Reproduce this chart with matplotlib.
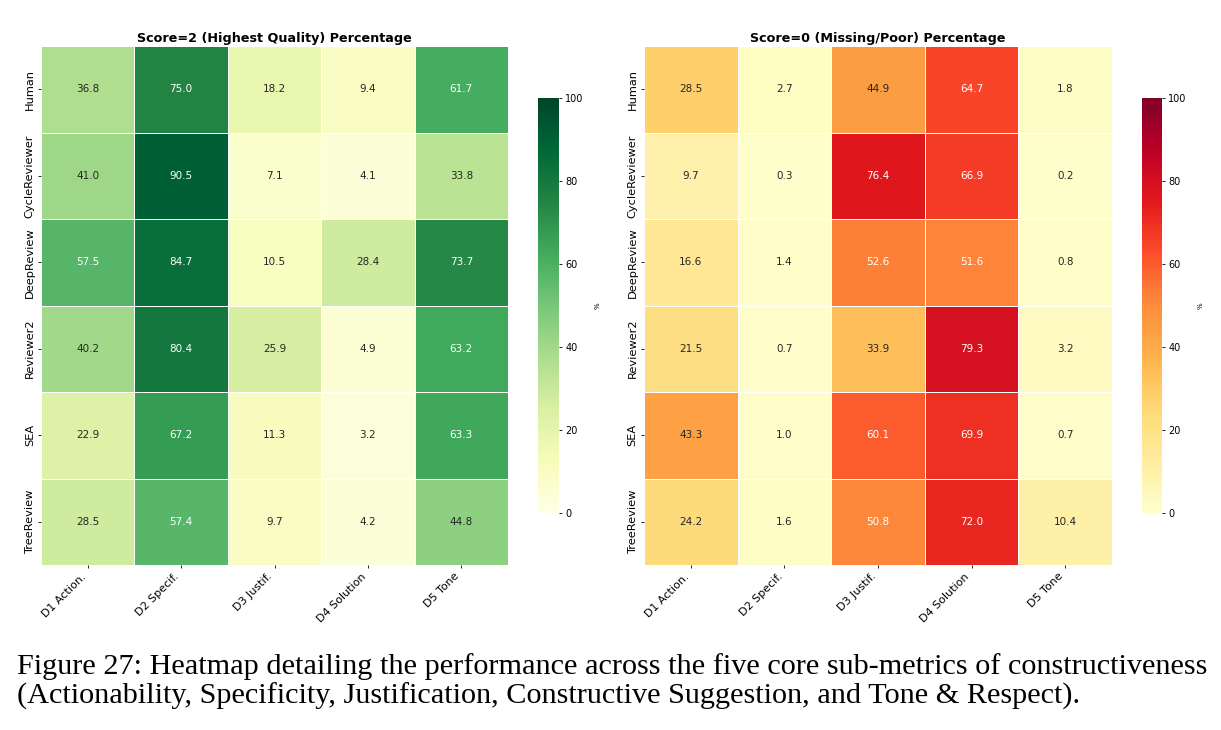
import matplotlib
matplotlib.use("Agg")
import matplotlib.pyplot as plt
import seaborn as sns
import numpy as np

models = ["Human", "CycleReviewer", "DeepReview", "Reviewer2", "SEA", "TreeReview"]
dims = ["D1 Action.", "D2 Specif.", "D3 Justif.", "D4 Solution", "D5 Tone"]

score2 = [
    [36.8, 75.0, 18.2, 9.4, 61.7],
    [41.0, 90.5, 7.1, 4.1, 33.8],
    [57.5, 84.7, 10.5, 28.4, 73.7],
    [40.2, 80.4, 25.9, 4.9, 63.2],
    [22.9, 67.2, 11.3, 3.2, 63.3],
    [28.5, 57.4, 9.7, 4.2, 44.8],
]
score0 = [
    [28.5, 2.7, 44.9, 64.7, 1.8],
    [9.7, 0.3, 76.4, 66.9, 0.2],
    [16.6, 1.4, 52.6, 51.6, 0.8],
    [21.5, 0.7, 33.9, 79.3, 3.2],
    [43.3, 1.0, 60.1, 69.9, 0.7],
    [24.2, 1.6, 50.8, 72.0, 10.4],
]
titles = ["Score=2 (Highest Quality) Percentage", "Score=0 (Missing/Poor) Percentage"]
caption_lines = [
    "Figure 27: Heatmap detailing the performance across the five core sub-metrics of constructiveness",
    "(Actionability, Specificity, Justification, Constructive Suggestion, and Tone & Respect).",
]

fig = plt.figure(figsize=(12.21, 7.30), dpi=100)
W, H = 1221, 730

def box(x0, x1, y0, y1):
    return [x0 / W, 1 - y1 / H, (x1 - x0) / W, (y1 - y0) / H]

ax1 = fig.add_axes(box(41, 508, 46, 565))
cax1 = fig.add_axes(box(538, 559, 98, 513))
ax2 = fig.add_axes(box(644, 1112, 46, 565))
cax2 = fig.add_axes(box(1142, 1162, 98, 513))

for ax, cax, data, cmap, title in [(ax1, cax1, score2, "YlGn", titles[0]),
                                   (ax2, cax2, score0, "YlOrRd", titles[1])]:
    sns.heatmap(np.array(data), ax=ax, cbar_ax=cax, cmap=cmap, vmin=0, vmax=100,
                annot=True, fmt=".1f", annot_kws={"fontsize": 7.5},
                linewidths=0.7, linecolor="white",
                xticklabels=dims, yticklabels=models)
    ax.set_title(title, fontsize=9.2, fontweight="bold", pad=3)
    ax.set_xticklabels(dims, rotation=45, ha="right", fontsize=8)
    ax.set_yticklabels(models, rotation=90, va="center", fontsize=8.2)
    ax.tick_params(length=2.5, width=0.6, pad=2)
    cax.tick_params(labelsize=7, length=2.5, width=0.6, pad=2)
    cax.set_yticks([0, 20, 40, 60, 80, 100])
    cax.set_ylabel("%", fontsize=5, labelpad=8)
    for s in cax.spines.values():
        s.set_visible(False)

fig.text(17 / W, 1 - 674 / H, caption_lines[0], family="Liberation Serif",
         fontsize=21.8, va="baseline", ha="left")
fig.text(17 / W, 1 - 704 / H, caption_lines[1], family="Liberation Serif",
         fontsize=21.8, va="baseline", ha="left")

fig.savefig("out.png", dpi=100)
